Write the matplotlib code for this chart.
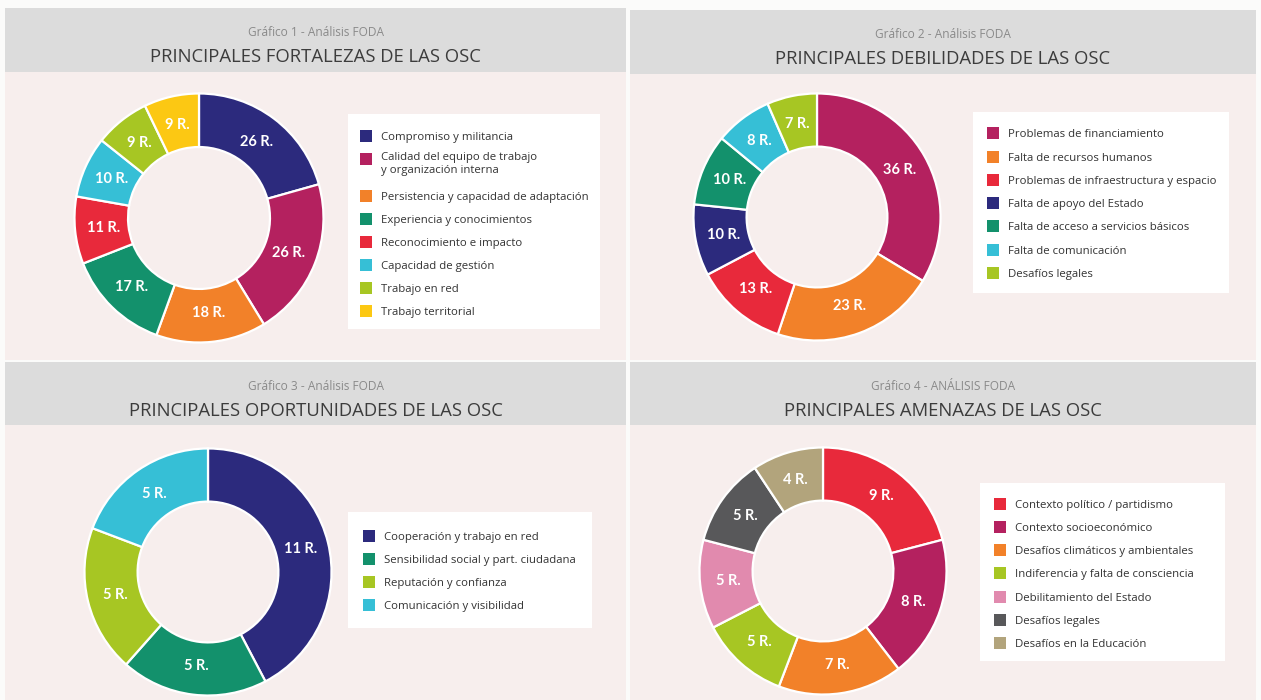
import matplotlib
matplotlib.use("Agg")
import matplotlib.pyplot as plt
from matplotlib.patches import Rectangle
import numpy as np

W, H = 1261, 700

# colours used across the four charts
NAVY = "#2c2a7d"
MAGENTA = "#b4215f"
ORANGE = "#f28129"
GREEN = "#13916c"
RED = "#e8293b"
CYAN = "#36bfd6"
LIME = "#a7c623"
YELLOW = "#fcc813"
PINK = "#e18aae"
DGRAY = "#58585a"
TAN = "#b2a47c"

# Gráfico 1 - fortalezas
fort_labels = ["Compromiso y militancia",
               "Calidad del equipo de trabajo\ny organización interna",
               "Persistencia y capacidad de adaptación",
               "Experiencia y conocimientos",
               "Reconocimiento e impacto",
               "Capacidad de gestión",
               "Trabajo en red",
               "Trabajo territorial"]
fort_values = [26, 26, 18, 17, 11, 10, 9, 9]
fort_colors = [NAVY, MAGENTA, ORANGE, GREEN, RED, CYAN, LIME, YELLOW]

# Gráfico 2 - debilidades
deb_labels = ["Problemas de financiamiento",
              "Falta de recursos humanos",
              "Problemas de infraestructura y espacio",
              "Falta de apoyo del Estado",
              "Falta de acceso a servicios básicos",
              "Falta de comunicación",
              "Desafíos legales"]
deb_values = [36, 23, 13, 10, 10, 8, 7]
deb_colors = [MAGENTA, ORANGE, RED, NAVY, GREEN, CYAN, LIME]

# Gráfico 3 - oportunidades
opo_labels = ["Cooperación y trabajo en red",
              "Sensibilidad social y part. ciudadana",
              "Reputación y confianza",
              "Comunicación y visibilidad"]
opo_values = [11, 5, 5, 5]
opo_colors = [NAVY, GREEN, LIME, CYAN]

# Gráfico 4 - amenazas
ame_labels = ["Contexto político / partidismo",
              "Contexto socioeconómico",
              "Desafíos climáticos y ambientales",
              "Indiferencia y falta de consciencia",
              "Debilitamiento del Estado",
              "Desafíos legales",
              "Desafíos en la Educación"]
ame_values = [9, 8, 7, 5, 5, 5, 4]
ame_colors = [RED, MAGENTA, ORANGE, LIME, PINK, DGRAY, TAN]

fig = plt.figure(figsize=(W / 100, H / 100), dpi=100)
fig.patch.set_facecolor("#fbfbfa")

# base axes in pixel coordinates (y grows downward)
base = fig.add_axes([0, 0, 1, 1])
base.set_xlim(0, W)
base.set_ylim(H, 0)
base.axis("off")

HEAD = "#dcdcdc"
BODY = "#f7eeed"


def rect(x0, y0, x1, y1, color, **kw):
    base.add_patch(Rectangle((x0, y0), x1 - x0, y1 - y0, facecolor=color,
                             edgecolor="none", **kw))


def panel(x0, x1, yh0, yh1, yb1, sub, title):
    rect(x0, yh0, x1, yh1, HEAD)
    rect(x0, yh1, x1, yb1, BODY)
    cx = (x0 + x1) / 2
    base.text(cx, yh0 + 23, sub, ha="center", va="center_baseline", fontsize=8.6,
              color="#8a8a8a", family="Open Sans")
    base.text(cx, yh0 + 47, title, ha="center", va="center_baseline",
              fontsize=13.3, color="#3c3c3c", family="Open Sans")


def donut(cx, cy, r, values, colors):
    ax = fig.add_axes([(cx - r) / W, 1 - (cy + r) / H, 2 * r / W, 2 * r / H])
    wedges, _ = ax.pie(values, colors=colors, startangle=90, counterclock=False,
                       radius=1, wedgeprops=dict(width=0.43, edgecolor="white",
                                                 linewidth=1.6))
    ax.set_xlim(-1.02, 1.02)
    ax.set_ylim(-1.02, 1.02)
    ax.axis("off")
    for w, v in zip(wedges, values):
        ang = np.deg2rad((w.theta1 + w.theta2) / 2)
        ax.text(0.77 * np.cos(ang), 0.77 * np.sin(ang), f"{v} R.",
                ha="center", va="center", color="white", fontsize=10.5,
                fontweight="bold", family="Lato")


def legend(x0, y0, x1, y1, rows, labels, colors, mx):
    rect(x0, y0, x1, y1, "white")
    for yy, lab, col in zip(rows, labels, colors):
        base.add_patch(Rectangle((mx, yy - 6), 12, 12, facecolor=col,
                                 edgecolor="none"))
        if "\n" in lab:
            base.text(mx + 21, yy - 7, lab, ha="left", va="top",
                      fontsize=8.2, color="#333333", family="Open Sans",
                      linespacing=1.3)
        else:
            base.text(mx + 21, yy, lab, ha="left", va="center_baseline",
                      fontsize=8.2, color="#333333", family="Open Sans")


# panels
panel(5, 626, 8, 72, 360, "Gráfico 1 - Análisis FODA",
      "PRINCIPALES FORTALEZAS DE LAS OSC")
panel(630, 1256, 10, 74, 360, "Gráfico 2 - Análisis FODA",
      "PRINCIPALES DEBILIDADES DE LAS OSC")
panel(5, 626, 362, 425, 700, "Gráfico 3 - Análisis FODA",
      "PRINCIPALES OPORTUNIDADES DE LAS OSC")
panel(630, 1256, 362, 425, 700, "Gráfico 4 - ANÁLISIS FODA",
      "PRINCIPALES AMENAZAS DE LAS OSC")

# legends
fort_rows = [136, 159, 196, 219, 242, 265, 288, 311]
legend(348, 114, 600, 329, fort_rows, fort_labels, fort_colors, 360)
deb_rows = [133, 157, 180, 203, 226, 250, 273]
legend(973, 112, 1229, 293, deb_rows, deb_labels, deb_colors, 987)
opo_rows = [536, 559, 582, 605]
legend(348, 512, 592, 628, opo_rows, opo_labels, opo_colors, 363)
ame_rows = [504, 527, 550, 573, 597, 620, 643]
legend(980, 483, 1225, 661, ame_rows, ame_labels, ame_colors, 994)

# donuts
donut(199, 218, 127, fort_values, fort_colors)
donut(817, 217, 126, deb_values, deb_colors)
donut(208, 572, 126, opo_values, opo_colors)
donut(823, 571, 126, ame_values, ame_colors)

fig.savefig("out.png", dpi=100, facecolor=fig.get_facecolor())
